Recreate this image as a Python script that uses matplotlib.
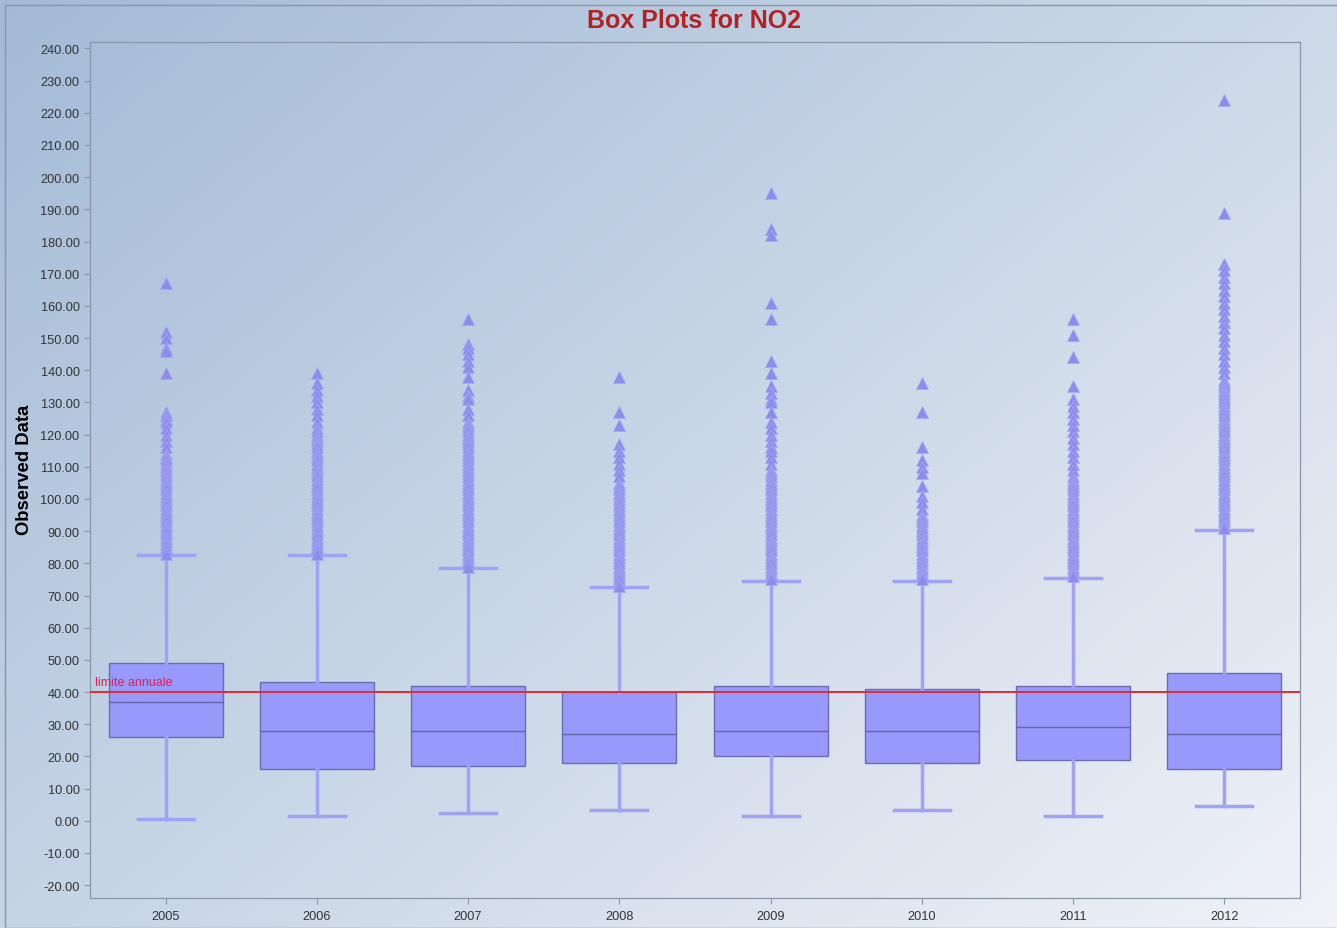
import matplotlib
matplotlib.use("Agg")
import matplotlib.pyplot as plt
import numpy as np
from matplotlib.patches import Rectangle

plt.rcParams['font.family'] = ['Liberation Sans', 'DejaVu Sans']

years = ["2005", "2006", "2007", "2008", "2009", "2010", "2011", "2012"]
q1 = [26, 16, 17, 18, 20, 18, 19, 16]
med = [37, 28, 28, 27, 28, 28, 29, 27]
q3 = [49, 43, 42, 40, 42, 41, 42, 46]
whislo = [0.5, 1.5, 2.5, 3.5, 1.5, 3.5, 1.5, 4.5]
whishi = [82.5, 82.5, 78.5, 72.5, 74.5, 74.5, 75.5, 90.5]

out_2005 = [167, 152, 150, 147, 146, 139, 127, 126, 125, 124, 122, 120, 118, 116, 114, 113,
            112, 111, 110, 109, 108, 107, 106, 105, 104, 103, 102, 101, 100, 99, 98, 97, 96,
            95, 94, 93, 92, 91, 90, 89, 88, 87, 86, 85, 84, 83]
out_2006 = [139, 136, 134, 132, 130, 128, 126, 124, 122, 121, 120, 119, 118, 117, 116, 115,
            114, 113, 112, 111, 110, 109, 108, 107, 106, 105, 104, 103, 102, 101, 100, 99, 98,
            97, 96, 95, 94, 93, 92, 91, 90, 89, 88, 87, 86, 85, 84, 83]
out_2007 = [156, 148, 147, 145, 143, 141, 138, 134, 132, 131, 128, 126, 124, 123, 122, 121,
            120, 119, 118, 117, 116, 115, 114, 113, 112, 111, 110, 109, 108, 107, 106, 105, 104,
            103, 102, 101, 100, 99, 98, 97, 96, 95, 94, 93, 92, 91, 90, 89, 88, 87, 86, 85, 84,
            83, 82, 81, 80, 79]
out_2008 = [138, 127, 123, 117, 115, 113, 111, 109, 107, 105, 104, 103, 102, 101, 100, 99, 98,
            97, 96, 95, 94, 93, 92, 91, 90, 89, 88, 87, 86, 85, 84, 83, 82, 81, 80, 79, 78, 77,
            76, 75, 74, 73]
out_2009 = [195, 184, 182, 161, 156, 143, 139, 135, 133, 131, 130, 127, 124, 122, 120, 118, 116,
            115, 113, 111, 109, 108, 107, 106, 105, 104, 103, 102, 101, 100, 99, 98, 97, 96, 95,
            94, 93, 92, 91, 90, 89, 88, 87, 86, 85, 84, 83, 82, 81, 80, 79, 78, 77, 76, 75]
out_2010 = [136, 127, 116, 112, 110, 108, 104, 101, 99, 97, 95, 94, 93, 92, 91, 90, 89, 88, 87,
            86, 85, 84, 83, 82, 81, 80, 79, 78, 77, 76, 75]
out_2011 = [156, 151, 144, 135, 131, 129, 127, 125, 123, 121, 119, 117, 115, 113, 111, 109, 107,
            106, 105, 104, 103, 102, 101, 100, 99, 98, 97, 96, 95, 94, 93, 92, 91, 90, 89, 88, 87,
            86, 85, 84, 83, 82, 81, 80, 79, 78, 77, 76]
out_2012 = [224, 189, 173, 171, 169, 167, 165, 163, 161, 159, 157, 155, 153, 151, 149, 147, 145,
            143, 141, 139, 137, 136, 135, 134, 133, 132, 131, 130, 129, 128, 127, 126, 125, 124,
            123, 122, 121, 120, 119, 118, 117, 116, 115, 114, 113, 112, 111, 110, 109, 108, 107,
            106, 105, 104, 103, 102, 101, 100, 99, 98, 97, 96, 95, 94, 93, 92, 91]
outliers = [out_2005, out_2006, out_2007, out_2008, out_2009, out_2010, out_2011, out_2012]

limit_value = 40
limit_label = "limite annuale"
yticks = [-20, -10, 0, 10, 20, 30, 40, 50, 60, 70, 80, 90, 100, 110, 120, 130, 140, 150,
          160, 170, 180, 190, 200, 210, 220, 230, 240]

W, H = 1337, 929
fig = plt.figure(figsize=(W / 100, H / 100), dpi=100)

# gradient background
bg = fig.add_axes([0, 0, 1, 1], zorder=-10)
xs = np.linspace(0, 1, 300)
ys = np.linspace(0, 1, 200)
X, Y = np.meshgrid(xs, ys)
t = np.clip(0.55 * X + 0.45 * Y, 0, 1)  # Y=0 top row (origin upper)
c0 = np.array([0.64, 0.73, 0.84])
c1 = np.array([0.94, 0.95, 0.97])
img = c0[None, None, :] * (1 - t[..., None]) + c1[None, None, :] * t[..., None]
bg.imshow(img, aspect='auto', extent=[0, 1, 0, 1], origin='upper', interpolation='bilinear')
bg.set_xlim(0, 1)
bg.set_ylim(0, 1)
bg.axis('off')
bg.add_patch(Rectangle((5 / W, 0), 1, 1 - 6 / H, fill=False, edgecolor='#8a96a8', lw=1.0,
                       transform=bg.transAxes))

ax = fig.add_axes([90 / W, 1 - 899 / H, (1300 - 90) / W, (899 - 43) / H])
ax.patch.set_alpha(0)

stats = []
for i in range(len(years)):
    stats.append(dict(label=years[i], q1=q1[i], med=med[i], q3=q3[i],
                      whislo=whislo[i], whishi=whishi[i], fliers=outliers[i]))

pos = list(range(len(years)))
ax.bxp(stats, positions=pos, widths=0.755, patch_artist=True, showfliers=True,
       boxprops=dict(facecolor='#9999fb', edgecolor='#6b6bb0', linewidth=1.0),
       medianprops=dict(color='#6464a8', linewidth=1.0),
       whiskerprops=dict(color='#a2a2f4', linewidth=2.5),
       capprops=dict(color='#a2a2f4', linewidth=2.5),
       capwidths=0.37,
       flierprops=dict(marker='^', markersize=8.5, markerfacecolor='#8c8cec',
                       markeredgecolor='#a8a8f4', markeredgewidth=0.5, linestyle='none'))

ax.hlines(limit_value, -0.5, 7.5, colors='#e02a35', linewidth=1.4, zorder=5)
ax.text(-0.47, limit_value + 1.2, limit_label, color='#e0205a', fontsize=9, va='bottom',
        ha='left', zorder=6)

ax.set_xlim(-0.5, 7.5)
ax.set_ylim(-24, 242)
ax.set_yticks(yticks)
ax.set_yticklabels([f"{v:.2f}" for v in yticks])
ax.set_xticks(pos)
ax.set_xticklabels(years)
ax.tick_params(axis='both', labelsize=9.2, colors='#8a96a8', labelcolor='#333333', length=4,
               width=0.8)
ax.tick_params(axis='x', pad=5)
for sp in ax.spines.values():
    sp.set_color('#8a96a8')
    sp.set_linewidth(0.9)

ax.set_ylabel("Observed Data", fontsize=13.3, fontweight='bold', color='black')
ax.yaxis.set_label_coords((33 - 90) / (1300 - 90), (899 - 470) / (899 - 43))
fig.text(694 / W, 1 - 21 / H, "Box Plots for NO2", fontsize=18, fontweight='bold',
         color='#b22222', ha='center', va='center')

fig.savefig("out.png", dpi=100)
